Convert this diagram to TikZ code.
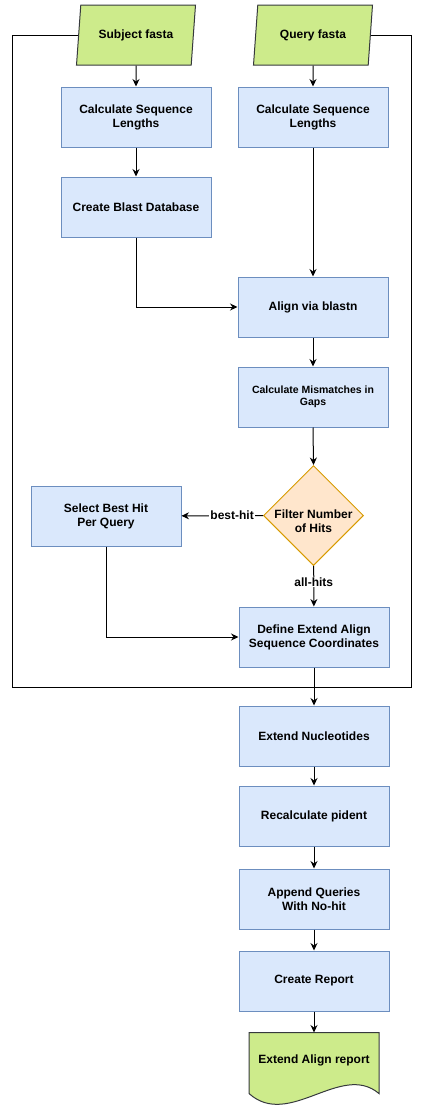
\documentclass[tikz,border=0pt]{standalone}
\usepackage{fontspec}
\setmainfont{Liberation Sans}
\usepackage{tikz}
\usetikzlibrary{shapes.geometric}
\usetikzlibrary{arrows.meta}
\usetikzlibrary{positioning}
\definecolor{stepfill}{HTML}{DAE8FC}
\definecolor{stepline}{HTML}{6C8EBF}
\definecolor{iofill}{HTML}{CDEB8B}
\definecolor{ioline}{HTML}{36393D}
\definecolor{decfill}{HTML}{FFE6CC}
\definecolor{decline}{HTML}{D79B00}

\begin{document}
\begin{tikzpicture}[x=1pt, y=-1pt, line width=1pt,
  every node/.style={font=\fontsize{12}{14}\selectfont\bfseries},
  stepbox/.style={draw=stepline, fill=stepfill, rectangle, minimum width=150, minimum height=60, align=center, inner sep=2pt},
  iobox/.style={draw=ioline, fill=iofill, trapezium, trapezium left angle=69, trapezium right angle=111, trapezium stretches body, minimum width=119, minimum height=60, inner sep=0pt},
  decision/.style={draw=decline, fill=decfill, diamond, minimum width=100, minimum height=100, inner sep=0pt},
  flow/.style={-{Stealth[length=7.5pt, width=7pt, inset=2.5pt]}},
  lbl/.style={fill=white, inner sep=1pt}]
\useasboundingbox (0,0) rectangle (425,1111);

\node[iobox] (subj) at (136,35) {Subject fasta};
\node[iobox] (query) at (313,35) {Query fasta};
\node[stepbox] (lenS) at (136,117) {Calculate Sequence\\Lengths};
\node[stepbox] (lenQ) at (313,117) {Calculate Sequence\\Lengths};
\node[stepbox] (mkdb) at (136,207) {Create Blast Database};
\node[stepbox] (blastn) at (313,307) {Align via blastn};
\node[stepbox, font=\fontsize{10.5}{12.5}\selectfont\bfseries] (mism) at (313,397) {Calculate Mismatches in\\Gaps};
\node[decision, label={[align=center, yshift=-6pt]center:Filter Number\\of Hits}] (filt) at (313.5,515.5) {};
\node[stepbox] (best) at (106,516) {Select Best Hit\\Per Query};
\node[stepbox] (coords) at (314,637) {Define Extend Align\\Sequence Coordinates};
\node[stepbox] (extnt) at (314,736) {Extend Nucleotides};
\node[stepbox] (pident) at (314,816) {Recalculate pident};
\node[stepbox] (nohit) at (314,899) {Append Queries\\With No-hit};
\node[stepbox] (report) at (314,981) {Create Report};
\node[minimum width=129, minimum height=54] (rep) at (314,1060) {};
\draw[draw=ioline, fill=iofill] (rep.north west) -- (rep.north east) -- ([yshift=-6pt]rep.south east)
  .. controls ([xshift=-38pt, yshift=26pt]rep.south east) and ([xshift=40pt, yshift=-42pt]rep.south west)
  .. ([yshift=-6pt]rep.south west) -- cycle;
\node at (rep) {Extend Align report};

\coordinate (frmL) at (12,687);
\coordinate (frmR) at (411,687);
\draw (subj.west) -| (frmL) -- (frmR) |- (query.east);

\draw[flow] (subj) -- (lenS);
\draw[flow] (lenS) -- (mkdb);
\draw[flow] (mkdb) |- (blastn);
\draw[flow] (query) -- (lenQ);
\draw[flow] (lenQ) -- (blastn);
\draw[flow] (blastn) -- (mism);
\draw[flow] (mism.south) -- (filt.north);
\draw[flow] (filt) -- node[lbl, pos=0.38] {best-hit} (best);
\draw[flow] (filt) -- node[lbl, pos=0.4] {all-hits} (coords);
\draw[flow] (best) |- (coords);
\draw[flow] (coords) -- (extnt);
\draw[flow] (extnt) -- (pident);
\draw[flow] (pident) -- (nohit);
\draw[flow] (nohit) -- (report);
\draw[flow] (report) -- (rep);
\end{tikzpicture}
\end{document}
